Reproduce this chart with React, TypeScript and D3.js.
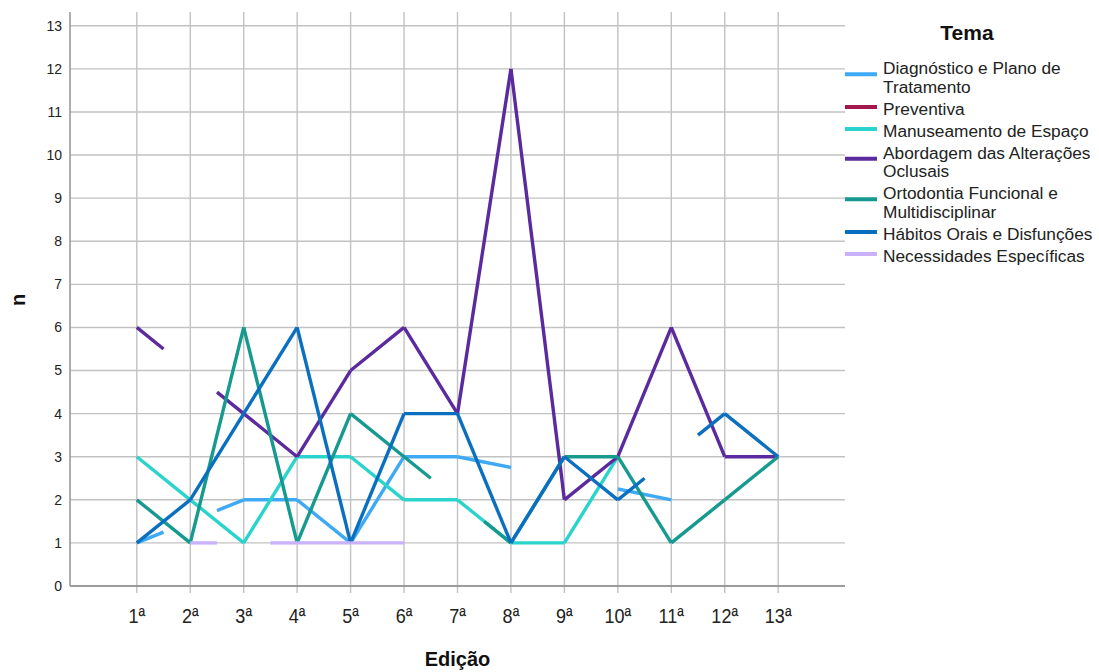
import React from "react";
import * as d3 from "d3";

const categories = ["1ª", "2ª", "3ª", "4ª", "5ª", "6ª", "7ª", "8ª", "9ª", "10ª", "11ª", "12ª", "13ª"];
const yTicks = [0, 1, 2, 3, 4, 5, 6, 7, 8, 9, 10, 11, 12, 13];

const diagnostico = [1, null, 2, 2, 1, 3, 3, null, null, null, 2, null, null];
const preventiva = [null, null, null, null, null, null, null, null, null, null, null, null, null];
const manuseamento = [3, 2, 1, 3, 3, 2, 2, 1, 1, 3, null, null, null];
const abordagem = [6, null, 4, 3, 5, 6, 4, 12, 2, 3, 6, 3, 3];
const ortodontia = [2, 1, 6, 1, 4, 3, null, 1, 3, 3, 1, 2, 3];
const habitos = [1, 2, 4, 6, 1, 4, 4, 1, 3, 2, null, 4, 3];
const necessidades = [null, 1, null, 1, 1, 1, null, null, null, null, null, null, null];

const seriesNames = [
  ["Diagnóstico e Plano de", "Tratamento"],
  ["Preventiva"],
  ["Manuseamento de Espaço"],
  ["Abordagem das Alterações", "Oclusais"],
  ["Ortodontia Funcional e", "Multidisciplinar"],
  ["Hábitos Orais e Disfunções"],
  ["Necessidades Específicas"],
];
const seriesValues = [diagnostico, preventiva, manuseamento, abordagem, ortodontia, habitos, necessidades];
const seriesColors = ["#3ea9f5", "#a3174f", "#2ad4cc", "#5a2a9e", "#169a8f", "#0b6fc0", "#c9b2fa"];

const FONT = "'Liberation Sans', Arial, sans-serif";

type Pt = [number, number];

function buildSegments(vals: (number | null)[]): Pt[][] {
  const valid: number[] = [];
  vals.forEach((v, i) => {
    if (v !== null && v !== undefined) valid.push(i);
  });
  const segs: Pt[][] = [];
  for (let k = 0; k < valid.length - 1; k++) {
    const a = valid[k];
    const b = valid[k + 1];
    const va = vals[a] as number;
    const vb = vals[b] as number;
    if (b === a + 1) {
      segs.push([[a, va], [b, vb]]);
    } else {
      const q = (b - a) / 4;
      const slope = (vb - va) / (b - a);
      segs.push([[a, va], [a + q, va + slope * q]]);
      segs.push([[b - q, vb - slope * q], [b, vb]]);
    }
  }
  return segs;
}

export default function App() {
  const left = 70, right = 845, top = 12, bottom = 586;
  const x = d3.scalePoint<string>().domain(categories).range([left, right]).padding(1.25);
  const step = x.step();
  const x0 = x(categories[0]) as number;
  const xi = (i: number) => x0 + i * step;
  const y = d3.scaleLinear().domain([0, 13.32]).range([bottom, top]);
  const line = d3.line<Pt>().x((d) => xi(d[0])).y((d) => y(d[1]));

  // legend layout
  const lineGap = 18.5, itemGap = 22;
  let cy = 68;
  const legendItems = seriesNames.map((lines, i) => {
    const centers = lines.map((_, j) => cy + j * lineGap);
    cy = centers[centers.length - 1] + itemGap;
    const mean = d3.mean(centers) as number;
    const sy = mean - (lines.length > 1 ? 3 : 1.5);
    return { lines, centers, sy, color: seriesColors[i] };
  });

  return (
    <div style={{ position: "absolute", left: 0, top: 0 }}>
      <svg width={1099} height={672} style={{ display: "block", background: "#fff" }} fontFamily={FONT}>
        {/* grid */}
        <g>
          {yTicks.map((t) => (
            <line key={"h" + t} x1={left} x2={right} y1={y(t)} y2={y(t)} stroke="#c2c2c2" strokeWidth={1.4} />
          ))}
          {categories.map((c) => (
            <line key={"v" + c} x1={x(c)} x2={x(c)} y1={top} y2={bottom + 7} stroke="#c2c2c2" strokeWidth={1.4} />
          ))}
        </g>
        {/* axes */}
        <line x1={left} x2={left} y1={top} y2={bottom} stroke="#9a9a9a" strokeWidth={1.6} />
        <line x1={left} x2={right} y1={bottom} y2={bottom} stroke="#8a8a8a" strokeWidth={1.6} />
        {yTicks.map((t) => (
          <text key={"yt" + t} x={62} y={y(t)} dy="0.35em" textAnchor="end" fontSize={14} fill="#222">
            {t}
          </text>
        ))}
        {categories.map((c) => (
          <text
            key={"xt" + c}
            transform={`translate(${x(c)},623) scale(0.86,1)`}
            textAnchor="middle"
            fontSize={21}
            fill="#222"
          >
            {c}
          </text>
        ))}
        <text x={(left + right) / 2} y={666} textAnchor="middle" fontSize={20} fontWeight="bold" fill="#111">
          Edição
        </text>
        <text transform={`translate(25,300) rotate(-90)`} textAnchor="middle" fontSize={20} fontWeight="bold" fill="#111">
          n
        </text>
        {/* series */}
        <g fill="none" strokeWidth={3.4} strokeLinecap="butt" strokeLinejoin="miter">
          {seriesValues.map((vals, i) =>
            buildSegments(vals as (number | null)[]).map((seg, k) => (
              <path key={i + "-" + k} d={line(seg) as string} stroke={seriesColors[i]} />
            ))
          )}
        </g>
        {/* legend */}
        <text x={967} y={40} textAnchor="middle" fontSize={21} fontWeight="bold" fill="#111">
          Tema
        </text>
        {legendItems.map((it, i) => (
          <g key={"lg" + i}>
            <line x1={845} x2={877} y1={it.sy} y2={it.sy} stroke={it.color} strokeWidth={4} />
            {it.lines.map((l, j) => (
              <text key={j} x={883} y={it.centers[j]} dy="0.35em" fontSize={17.3} fill="#222">
                {l}
              </text>
            ))}
          </g>
        ))}
      </svg>
    </div>
  );
}
